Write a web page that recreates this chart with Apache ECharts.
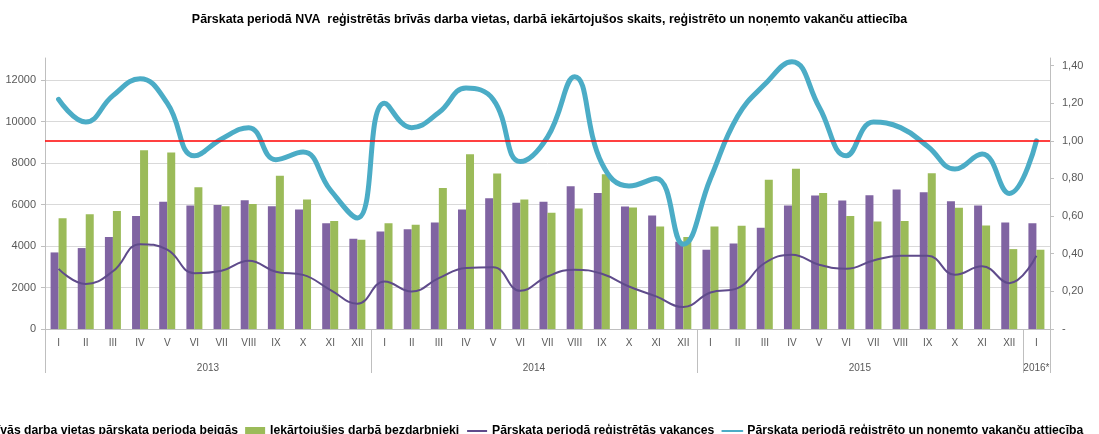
<!DOCTYPE html>
<html>
<head>
<meta charset="utf-8">
<script src="https://cdn.jsdelivr.net/npm/echarts@6/dist/echarts.min.js"></script>
<style>
    html, body { margin: 0; padding: 0; background: #fff; }
    #chart { width: 1099px; height: 434px; }
</style>
</head>
<body>
<div id="chart"></div>
<script>
"use strict";
var MONTHS = ['I', 'II', 'III', 'IV', 'V', 'VI', 'VII', 'VIII', 'IX', 'X', 'XI', 'XII',
    'I', 'II', 'III', 'IV', 'V', 'VI', 'VII', 'VIII', 'IX', 'X', 'XI', 'XII',
    'I', 'II', 'III', 'IV', 'V', 'VI', 'VII', 'VIII', 'IX', 'X', 'XI', 'XII',
    'I'];
var YEARS = ['2013', '2014', '2015', '2016*'];
var YEAR_BOUNDS = [0, 12, 24, 36, 37];
var YEAR_CENTERS = [6, 18, 30, 36.5];

// brīvās darba vietas perioda beigās
var vacanciesEnd = [3690, 3900, 4430, 5440, 6130, 5950, 5980, 6210, 5920, 5760, 5100, 4350,
    4700, 4810, 5130, 5760, 6300, 6080, 6130, 6880, 6560, 5900, 5470, 4200,
    3820, 4120, 4880, 5950, 6430, 6190, 6450, 6720, 6590, 6160, 5950, 5130,
    5100];
// iekārtojušies darbā bezdarbnieki
var employed = [5340, 5530, 5690, 8610, 8500, 6830, 5920, 6030, 7390, 6240, 5200, 4300,
    5100, 5020, 6800, 8420, 7490, 6240, 5600, 5810, 7460, 5850, 4940, 4430,
    4940, 4970, 7190, 7720, 6560, 5440, 5180, 5200, 7510, 5840, 4990, 3850,
    3820];
// periodā reģistrētās vakances
var registered = [2900, 2170, 2780, 4090, 3820, 2690, 2810, 3290, 2760, 2610, 1890, 1220,
    2290, 1810, 2450, 2940, 2980, 1840, 2530, 2860, 2660, 2050, 1570, 1060,
    1760, 1970, 3180, 3580, 3100, 2900, 3300, 3530, 3530, 2610, 3020, 2210,
    3530];
// reģistrēto un noņemto vakanču attiecība
var ratio = [1.22, 1.10, 1.24, 1.33, 1.20, 0.92, 1.01, 1.07, 0.90, 0.94, 0.74, 0.59,
    1.20, 1.07, 1.15, 1.28, 1.22, 0.89, 1.02, 1.34, 0.88, 0.76, 0.80, 0.45,
    0.80, 1.13, 1.30, 1.42, 1.18, 0.92, 1.10, 1.07, 0.97, 0.85, 0.93, 0.72,
    1.00];
var RATIO_LIMIT = 1.0;

var NAMES = [
    'Reģistrētās brīvās darba vietas pārskata perioda beigās',
    'Iekārtojušies darbā bezdarbnieki',
    'Pārskata periodā reģistrētās vakances',
    'Pārskata periodā reģistrēto un noņemto vakanču attiecība'
];

var FONT = '"Liberation Sans Narrow", "Liberation Sans", sans-serif';
var AXIS_COLOR = '#bfbfbf';
var GRID_COLOR = '#d9d9d9';
var LABEL_COLOR = '#595959';

function fmtRatio(v) {
    if (v === 0)
        return '-';
    return v.toFixed(2).replace('.', ',');
}

var chart = echarts.init(document.getElementById('chart'));
chart.setOption({
    animation: false,
    textStyle: { fontFamily: FONT },
    title: {
        text: 'Pārskata periodā NVA  reģistrētās brīvās darba vietas, darbā iekārtojušos skaits, reģistrēto un noņemto vakanču attiecība',
        left: 'center',
        top: 9,
        textStyle: { fontFamily: FONT, fontSize: 12.4, fontWeight: 'bold', color: '#000' }
    },
    legend: {
        left: -115,
        top: 420,
        width: 1400,
        itemWidth: 20,
        itemHeight: 8,
        itemGap: 7,
        textStyle: { fontFamily: FONT, fontSize: 12.2, fontWeight: 'bold', color: '#000' },
        data: [
            { name: NAMES[0], icon: 'rect' },
            { name: NAMES[1], icon: 'rect' },
            { name: NAMES[2], itemStyle: { opacity: 0 } },
            { name: NAMES[3], itemStyle: { opacity: 0 } }
        ]
    },
    grid: { left: 45, right: 49, top: 58, bottom: 105 },
    xAxis: [
        {
            type: 'category',
            data: MONTHS,
            axisLine: { lineStyle: { color: AXIS_COLOR } },
            axisTick: { show: false },
            axisLabel: { interval: 0, color: LABEL_COLOR, fontSize: 10, margin: 9 }
        },
        {
            type: 'value',
            min: 0,
            max: 37,
            position: 'bottom',
            axisLine: { show: false },
            splitLine: { show: false },
            axisTick: { show: true, length: 44, customValues: YEAR_BOUNDS, lineStyle: { color: AXIS_COLOR } },
            axisLabel: {
                color: LABEL_COLOR,
                fontSize: 10,
                margin: 34,
                customValues: YEAR_CENTERS,
                formatter: function (v) {
                    return YEARS[YEAR_CENTERS.indexOf(v)];
                }
            }
        }
    ],
    yAxis: [
        {
            type: 'value',
            min: 0,
            max: 13060,
            interval: 2000,
            axisLine: { show: true, lineStyle: { color: AXIS_COLOR } },
            axisTick: { show: true, length: 4, lineStyle: { color: AXIS_COLOR } },
            axisLabel: {
                color: LABEL_COLOR, fontSize: 11, margin: 9, showMaxLabel: false,
                formatter: function (v) { return String(v); }
            },
            splitLine: { show: true, showMaxLine: false, lineStyle: { color: GRID_COLOR } }
        },
        {
            type: 'value',
            min: 0,
            max: 1.44,
            interval: 0.2,
            position: 'right',
            axisLine: { show: true, lineStyle: { color: AXIS_COLOR } },
            axisTick: { show: true, length: 4, lineStyle: { color: AXIS_COLOR } },
            axisLabel: { color: LABEL_COLOR, fontSize: 11, margin: 12, showMaxLabel: false, formatter: fmtRatio },
            splitLine: { show: false }
        }
    ],
    series: [
        {
            name: NAMES[0],
            type: 'bar',
            data: vacanciesEnd,
            barWidth: 8,
            barGap: '0%',
            itemStyle: { color: '#8064a2' }
        },
        {
            name: NAMES[1],
            type: 'bar',
            data: employed,
            barWidth: 8,
            barGap: '0%',
            itemStyle: { color: '#9bbb59' }
        },
        {
            name: NAMES[2],
            type: 'line',
            data: registered,
            smooth: 0.45,
            symbol: 'none',
            z: 3,
            lineStyle: { color: '#5f4b8b', width: 2 },
            itemStyle: { color: '#5f4b8b' }
        },
        {
            name: NAMES[3],
            type: 'line',
            yAxisIndex: 1,
            data: ratio,
            smooth: 0.45,
            symbol: 'none',
            z: 4,
            lineStyle: { color: '#4bacc6', width: 5, cap: 'round', join: 'round' },
            itemStyle: { color: '#4bacc6' },
            markLine: {
                silent: true,
                symbol: 'none',
                label: { show: false },
                lineStyle: { color: '#ff0000', width: 1.5, type: 'solid' },
                data: [{ yAxis: RATIO_LIMIT }]
            }
        }
    ]
});
</script>
</body>
</html>
